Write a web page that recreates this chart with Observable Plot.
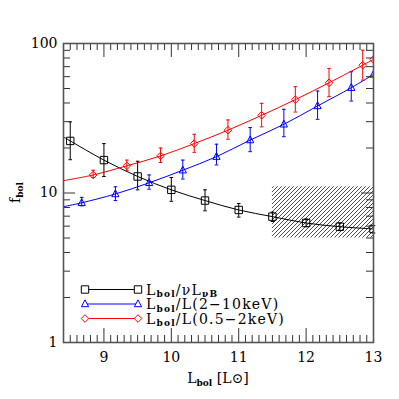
<!DOCTYPE html>
<html><head><meta charset="utf-8">
<script src="https://cdn.jsdelivr.net/npm/d3@7"></script>
<script src="https://cdn.jsdelivr.net/npm/@observablehq/plot@0.6"></script>
<style>body{margin:0;background:#fff}</style>
</head><body><div id="chart"></div>
<script>
// ---- data ----
const blackX  = [8.5, 9.0, 9.5, 10.0, 10.5, 11.0, 11.5, 12.0, 12.5, 13.0];
const blackY  = [22.3, 16.6, 12.9, 10.5, 8.9, 7.7, 6.95, 6.3, 5.95, 5.75];
const blackLo = [16.7, 12.9, 10.5, 8.8, 7.6, 6.9, 6.45, 5.95, 5.6, 5.4];
const blackHi = [29.9, 21.4, 16.3, 12.7, 10.5, 8.5, 7.45, 6.7, 6.3, 6.05];
const blackStart = {x: 8.4, y: 23.7};

const blueX  = [8.67, 9.17, 9.67, 10.17, 10.67, 11.17, 11.67, 12.17, 12.67, 13.0];
const blueY  = [8.6, 9.85, 11.7, 14.2, 17.5, 22.6, 28.8, 38.2, 50.6, 62.1];
const blueLo = [8.2, 8.9, 10.6, 12.4, 15.4, 18.9, 23.8, 31.1, 41.2, null];
const blueHi = [9.35, 11.0, 13.2, 16.6, 21.2, 27.4, 36.3, 48.1, 64.7, null];
const blueStart = {x: 8.4, y: 8.1};

const redX  = [8.84, 9.34, 9.84, 10.34, 10.84, 11.34, 11.84, 12.34, 12.84, 13.0];
const redY  = [13.2, 15.2, 17.7, 21.4, 26.3, 33.1, 42.1, 54.6, 71.6, 78.2];
const redLo = [12.7, 14.1, 16.0, 18.7, 22.9, 27.7, 34.8, 44.1, 56.9, null];
const redHi = [14.2, 16.6, 20.0, 24.7, 30.8, 39.8, 51.4, 68.1, 90.2, null];
const redStart = {x: 8.4, y: 12.1};

const hatchBox = [{x1: 11.5, x2: 13.0, y1: 5, y2: 11}];

const xMajor = [9, 10, 11, 12, 13];
const xMinor = d3.range(84, 131).map(d => d / 10).filter(d => !Number.isInteger(d));
const yMajor = [1, 10, 100];
const yMinor = [2, 3, 4, 5, 6, 7, 8, 9, 20, 30, 40, 50, 60, 70, 80, 90];

const legendLabels = [
  ["L", "bol", "/\u03BDL", "\u03BDB"],
  ["L", "bol", "/L(2\u221210keV)"],
  ["L", "bol", "/L(0.5\u22122keV)"]
];

// ---- symbols ----
const symSquare = {draw(c, s) { const h = Math.sqrt(s / Math.PI); c.moveTo(-h, -h); c.lineTo(h, -h); c.lineTo(h, h); c.lineTo(-h, h); c.closePath(); }};
const symTri = {draw(c, s) { const h = Math.sqrt(s / Math.PI); c.moveTo(0, -h * 1.15); c.lineTo(h, h * 0.75); c.lineTo(-h, h * 0.75); c.closePath(); }};
const symDia = {draw(c, s) { const h = Math.sqrt(s / Math.PI); c.moveTo(0, -h); c.lineTo(h, 0); c.lineTo(0, h); c.lineTo(-h, 0); c.closePath(); }};
const symCap = {draw(c, s) { const h = Math.sqrt(s / Math.PI); c.moveTo(-h, 0); c.lineTo(h, 0); }};

function rows(xs, ys, lo, hi) { return xs.map((x, i) => ({x, y: ys[i], lo: lo[i], hi: hi[i]})); }
const series = [
  {rows: rows(blackX, blackY, blackLo, blackHi), start: blackStart, color: "#000", sym: symSquare, r: 3.7},
  {rows: rows(blueX, blueY, blueLo, blueHi), start: blueStart, color: "#0000ff", sym: symTri, r: 3.6},
  {rows: rows(redX, redY, redLo, redHi), start: redStart, color: "#ff0000", sym: symDia, r: 3.8}
];

const W = 399, H = 399, mL = 63, mR = 26, mT = 43, mB = 57;
const plotH = H - mT - mB, plotW = W - mL - mR;
const font = "'DejaVu Serif', serif";
const FS = 14;
const tickCol = "#333";

const marks = [];
marks.push(Plot.rect(hatchBox, {x1: "x1", x2: "x2", y1: "y1", y2: "y2", fill: "url(#hatch)"}));
for (const s of series) {
  marks.push(Plot.line([s.start, ...s.rows], {x: "x", y: "y", stroke: s.color, strokeWidth: 1, curve: "catmull-rom", clip: true}));
  const eb = s.rows.filter(d => d.lo != null);
  marks.push(Plot.ruleX(eb, {x: "x", y1: "lo", y2: "hi", stroke: s.color, strokeWidth: 1}));
  marks.push(Plot.dot(eb, {x: "x", y: "lo", symbol: symCap, r: 1.8, stroke: s.color, strokeWidth: 1}));
  marks.push(Plot.dot(eb, {x: "x", y: "hi", symbol: symCap, r: 1.8, stroke: s.color, strokeWidth: 1}));
  marks.push(Plot.dot(s.rows, {x: "x", y: "y", symbol: s.sym, r: s.r, stroke: s.color, fill: "none", strokeWidth: 1, clip: true}));
}
// ticks (inward, all four sides)
marks.push(Plot.tickX(xMajor, {x: d => d, insetTop: plotH - 14, stroke: tickCol}));
marks.push(Plot.tickX(xMajor, {x: d => d, insetBottom: plotH - 14, stroke: tickCol}));
marks.push(Plot.tickX(xMinor, {x: d => d, insetTop: plotH - 7, stroke: tickCol}));
marks.push(Plot.tickX(xMinor, {x: d => d, insetBottom: plotH - 7, stroke: tickCol}));
marks.push(Plot.tickY(yMajor, {y: d => d, insetRight: plotW - 12, stroke: tickCol}));
marks.push(Plot.tickY(yMajor, {y: d => d, insetLeft: plotW - 12, stroke: tickCol}));
marks.push(Plot.tickY(yMinor, {y: d => d, insetRight: plotW - 7, stroke: tickCol}));
marks.push(Plot.tickY(yMinor, {y: d => d, insetLeft: plotW - 7, stroke: tickCol}));
marks.push(Plot.axisX(xMajor, {tickSize: 0, tickPadding: 10, label: null, tickFormat: d => String(d), fill: "#000", fontSize: FS, fontFamily: font}));
marks.push(Plot.axisY(yMajor, {tickSize: 0, tickPadding: 6, label: null, tickFormat: d => String(d), fill: "#000", fontSize: FS, fontFamily: font}));
marks.push(Plot.frame({stroke: "#555", strokeWidth: 1.6}));

const svg = Plot.plot({
  width: W, height: H,
  marginLeft: mL, marginRight: mR, marginTop: mT, marginBottom: mB,
  style: {fontFamily: font, fontSize: FS + "px", background: "#fff", color: "#000"},
  x: {domain: [8.4, 13]},
  y: {type: "log", domain: [1, 100]},
  marks
});
document.getElementById("chart").appendChild(svg);

const root = d3.select(svg);
// hatch pattern
const defs = root.insert("defs", ":first-child");
const pat = defs.append("pattern").attr("id", "hatch").attr("patternUnits", "userSpaceOnUse")
  .attr("width", 4).attr("height", 4);
pat.append("path").attr("d", "M-1,1 L1,-1 M0,4 L4,0 M3,5 L5,3")
  .attr("stroke", "#222").attr("stroke-width", 0.8);

function richText(g, parts, fs = FS) {
  const t = g.append("text").attr("font-family", font).attr("font-size", fs).attr("fill", "#000");
  parts.forEach((p, i) => {
    const sub = i % 2 === 1;
    const ts = t.append("tspan").text(p);
    if (sub) ts.attr("font-size", 9).attr("font-weight", "bold").attr("dy", 2.5);
    else if (i > 0) ts.attr("dy", -2.5);
  });
  return t;
}

// axis labels
const xl = richText(root, ["L", "bol", " [L\u2299]"]);
xl.attr("x", mL + plotW / 2).attr("y", 383).attr("text-anchor", "middle");
const yl = richText(root, ["f", "bol"]);
yl.attr("text-anchor", "middle").attr("transform", `translate(20,${mT + plotH / 2}) rotate(-90)`);

// legend
const lg = root.append("g").attr("text-anchor", "start");
const legY = [289.5, 304, 318.5];
series.forEach((s, i) => {
  const y = legY[i];
  lg.append("line").attr("x1", 85).attr("x2", 138).attr("y1", y).attr("y2", y).attr("stroke", s.color);
  for (const x of [85, 138]) {
    const p = d3.path(); s.sym.draw(p, Math.PI * s.r * s.r);
    lg.append("path").attr("d", p.toString()).attr("transform", `translate(${x},${y})`)
      .attr("fill", "#fff").attr("stroke", s.color);
  }
  const t = richText(lg, legendLabels[i], 14);
  t.attr("x", 146).attr("y", y + 5).attr("text-anchor", "start").attr("letter-spacing", 1.2);
});
</script></body></html>
